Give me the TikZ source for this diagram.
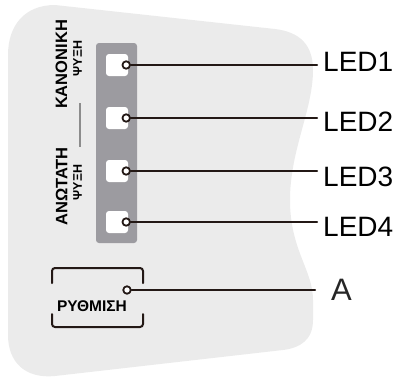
\documentclass[tikz,border=0pt]{standalone}
\usepackage{fontspec}
\setmainfont{Liberation Sans}
\usetikzlibrary{calc}

\definecolor{housing}{HTML}{EBEBEB}
\definecolor{strip}{HTML}{9C9BA0}
\definecolor{wire}{HTML}{231815}

\tikzset{
  ledbox/.style={fill=white, rounded corners=3pt, minimum size=22pt, inner sep=0pt},
  pin/.style={circle, draw=wire, line width=1.8pt, fill=white, minimum size=7.5pt, inner sep=0pt},
  lead/.style={draw=wire, line width=2.4pt},
  ledlabel/.style={anchor=west, inner sep=0pt, font=\fontsize{28}{30}\selectfont},
  sidetext/.style={rotate=90, inner sep=0pt, font=\bfseries\fontsize{16.5}{18}\selectfont},
  sidetextsmall/.style={rotate=90, inner sep=0pt, font=\bfseries\fontsize{12.5}{14}\selectfont},
}

\begin{document}
\begin{tikzpicture}[x=1pt, y=1pt, line cap=round, line join=round]
\useasboundingbox (0,0) rectangle (397,-378);

% --- Housing ---
\fill[housing] (8,-55) .. controls (8,-25) and (25,-5) .. (55,-5)
  -- (275,-29) .. controls (300,-32) and (313,-45) .. (313,-70)
  .. controls (313,-110) and (290,-150) .. (290,-200)
  .. controls (290,-250) and (313,-270) .. (313,-300)
  -- (313,-320) .. controls (313,-340) and (300,-348) .. (283,-350)
  -- (55,-376) .. controls (25,-379) and (8,-362) .. (8,-335) -- cycle;

% --- LED strip ---
\fill[strip, rounded corners=3pt] (96,-43) rectangle (137,-243);

% --- Side labels ---
\node[sidetext] (normal) at (61.5,-64.5) {ΚΑΝΟΝΙΚΗ};
\node[sidetextsmall] (normalb) at (77.5,-58.5) {ΨΥΞΗ};
\node[sidetext] (max) at (61.5,-186.5) {ΑΝΩΤΑΤΗ};
\node[sidetextsmall] (maxb) at (77.5,-182.5) {ΨΥΞΗ};
\draw[black!45, line width=1.5pt, line cap=butt] (80,-103) -- (80,-147);

% --- LEDs and leads ---
\foreach \n/\y/\ly in {1/-65/-62, 2/-118/-122, 3/-171/-177, 4/-222/-226.5}{
  \node[ledbox] (led\n) at (117,\y) {};
  \node[pin] (pin\n) at ([xshift=-2pt]led\n.east) {};
  \node[ledlabel] (lab\n) at (323,\ly) {LED\n};
  \draw[lead] (pin\n.east) -- ($(pin\n.east -| lab\n.west)+(-6,0)$);
}

% --- Setting button ---
\draw[wire, line width=2pt, rounded corners=3pt] (52,-283) -- (52,-268) -- (143,-268) -- (143,-283);
\draw[wire, line width=2pt, rounded corners=3pt] (52,-314) -- (52,-327) -- (143,-327) -- (143,-314);
\node[inner sep=0pt, font=\bfseries\fontsize{15.5}{17}\selectfont] (setting) at (92,-306) {ΡΥΘΜΙΣΗ};
\node[pin] (pinA) at (127,-290) {};
\node[ledlabel, text=black!85, font=\fontsize{31}{33}\selectfont] (labA) at (331,-290) {A};
\draw[lead] (pinA.east) -- ($(pinA.east -| labA.west)+(-16,0)$);

\end{tikzpicture}
\end{document}
